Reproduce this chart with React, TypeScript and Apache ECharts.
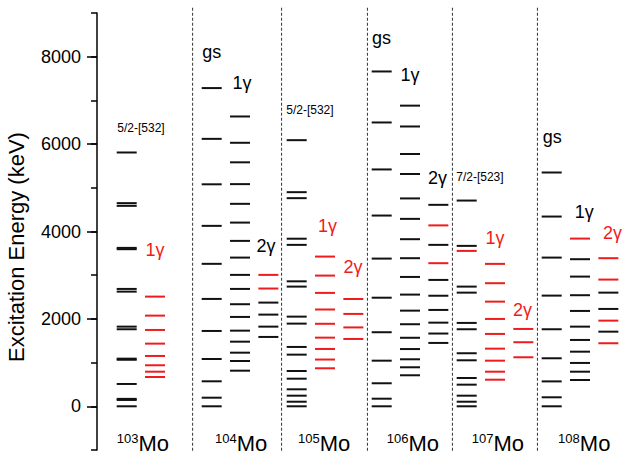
import React, { useEffect, useRef } from 'react';
import * as echarts from 'echarts';

const FONT = '"Liberation Sans", Arial, Helvetica, sans-serif';
const BLACK = '#111111';
const RED = '#ee1c1c';

// ---------- data (keV) ----------
const isotopes = ['103', '104', '105', '106', '107', '108'];
const yTickValues = [0, 2000, 4000, 6000, 8000];

const mo103BandKnown = [0, 145, 170, 511, 1065, 1090, 1763, 1823, 2624, 2686, 3595, 3625, 4587, 4649, 5808];
const mo103Gamma1New = [671, 792, 939, 1152, 1434, 1747, 2075, 2510];

const mo104GsKnown = [0, 197, 572, 1083, 1724, 2457, 3260, 4129, 5080, 6120, 7282];
const mo104Gamma1Known = [815, 1037, 1227, 1479, 1731, 2045, 2336, 2686, 3007, 3403, 3785, 4204, 4633, 5084, 5583, 6030, 6632];
const mo104Gamma2Known = [1587, 1823, 2098, 2373];
const mo104Gamma2New = [2695, 3007];

const mo105BandKnown = [0, 105, 243, 389, 632, 808, 1182, 1358, 1892, 2052, 2739, 2860, 3694, 3835, 4763, 4900, 6090];
const mo105Gamma1New = [870, 1070, 1312, 1571, 1888, 2215, 2595, 2991, 3426];
const mo105Gamma2New = [1541, 1805, 2114, 2455];

const mo106GsKnown = [0, 174, 527, 1044, 1695, 2485, 3380, 4365, 5420, 6495, 7662];
const mo106Gamma1Known = [710, 893, 1076, 1310, 1568, 1878, 2189, 2556, 2960, 3389, 3824, 4289, 4757, 5316, 5774, 6403, 6880];
const mo106Gamma2Known = [1450, 1665, 1914, 2205, 2530, 2892, 3694, 4610];
const mo106Gamma2New = [3275, 4140];

const mo107BandKnown = [0, 105, 243, 495, 648, 1053, 1214, 1763, 1908, 2601, 2739, 3671, 4708];
const mo107BandNew = [3556];
const mo107Gamma1New = [609, 792, 1044, 1319, 1656, 1999, 2395, 2817, 3259];
const mo107Gamma2New = [1122, 1466, 1770];

const mo108GsKnown = [0, 206, 570, 1099, 1763, 2533, 3403, 4342, 5350];
const mo108Gamma1Known = [602, 792, 992, 1250, 1518, 1823, 2182, 2542, 2968, 3366];
const mo108Gamma1New = [3838];
const mo108Gamma2Known = [1708, 2228, 2601];
const mo108Gamma2New = [1443, 1960, 2900, 3389];

// band column slot index, known levels, new levels
const bands: { slot: number; known: number[]; fresh: number[] }[] = [
  { slot: 0, known: mo103BandKnown, fresh: [] },
  { slot: 1, known: [], fresh: mo103Gamma1New },
  { slot: 3, known: mo104GsKnown, fresh: [] },
  { slot: 4, known: mo104Gamma1Known, fresh: [] },
  { slot: 5, known: mo104Gamma2Known, fresh: mo104Gamma2New },
  { slot: 6, known: mo105BandKnown, fresh: [] },
  { slot: 7, known: [], fresh: mo105Gamma1New },
  { slot: 8, known: [], fresh: mo105Gamma2New },
  { slot: 9, known: mo106GsKnown, fresh: [] },
  { slot: 10, known: mo106Gamma1Known, fresh: [] },
  { slot: 11, known: mo106Gamma2Known, fresh: mo106Gamma2New },
  { slot: 12, known: mo107BandKnown, fresh: mo107BandNew },
  { slot: 13, known: [], fresh: mo107Gamma1New },
  { slot: 14, known: [], fresh: mo107Gamma2New },
  { slot: 15, known: mo108GsKnown, fresh: [] },
  { slot: 16, known: mo108Gamma1Known, fresh: mo108Gamma1New },
  { slot: 17, known: mo108Gamma2Known, fresh: mo108Gamma2New },
];

// band labels: text, red?
const bandLabelTexts = ['5/2-[532]', '1γ', 'gs', '1γ', '2γ', '5/2-[532]', '1γ', '2γ', 'gs', '1γ', '2γ', '7/2-[523]', '1γ', '2γ', 'gs', '1γ', '2γ'];
const bandLabelRed = [0, 1, 0, 0, 0, 0, 1, 1, 0, 0, 0, 0, 1, 1, 0, 0, 1];

// ---------- layout ----------
const LINE_W = 0.706; // level line length in slot units
const X_MIN = -0.695;
const X_MAX = 17.87;
const separatorSlots = [2.68, 5.82, 8.85, 11.85, 14.85];
const bandLabelPos: [number, number, number][] = [
  // x (slot), y (keV), fontSize
  [0.858, 6373, 12],
  [1.352, 3587, 18],
  [3.353, 8113, 18],
  [4.42, 7404, 18],
  [5.27, 3670, 18],
  [6.82, 6785, 12],
  [7.44, 4129, 18],
  [8.34, 3197, 18],
  [9.35, 8434, 18],
  [10.35, 7587, 18],
  [11.32, 5228, 18],
  [12.82, 5255, 12],
  [13.35, 3854, 18],
  [14.32, 2205, 18],
  [15.37, 6167, 18],
  [16.5, 4438, 18],
  [17.5, 3969, 18],
];
const isotopeLabelSlots = [0, 3.47, 6.4, 9.53, 12.53, 15.58];
const ISOTOPE_LABEL_Y = -850;

export default function App() {
  const ref = useRef<HTMLDivElement>(null);
  useEffect(() => {
    if (!ref.current) return;
    document.body.style.margin = '0';
    const chart = echarts.init(ref.current, undefined, { renderer: 'svg' });

    const levelData: number[][] = [];
    bands.forEach((b) => {
      b.known.forEach((e) => levelData.push([b.slot, e, 0]));
      b.fresh.forEach((e) => levelData.push([b.slot, e, 1]));
    });

    const option: any = {
      animation: false,
      backgroundColor: '#ffffff',
      grid: [
        { left: 97, right: 0, top: 13, bottom: 9 },
        { left: 97, right: 0, top: 56.7, bottom: 52.7 },
      ],
      xAxis: [
        { type: 'value', gridIndex: 0, min: X_MIN, max: X_MAX, show: false },
        { type: 'value', gridIndex: 1, min: X_MIN, max: X_MAX, show: false },
      ],
      yAxis: [
        {
          type: 'value',
          gridIndex: 0,
          min: -1000,
          max: 9000,
          interval: 1000,
          axisLine: { show: true, onZero: false, lineStyle: { color: '#000', width: 1.5 } },
          axisTick: { show: true, length: 6, lineStyle: { color: '#000', width: 1.5 } },
          axisLabel: { show: false },
          splitLine: { show: false },
        },
        {
          type: 'value',
          gridIndex: 1,
          min: yTickValues[0],
          max: yTickValues[yTickValues.length - 1],
          interval: 2000,
          axisLine: { show: false, onZero: false },
          axisTick: { show: true, length: 10, lineStyle: { color: '#000', width: 1.5 } },
          axisLabel: {
            show: true,
            margin: 16,
            fontSize: 18,
            color: '#000',
            fontFamily: FONT,
            formatter: (v: number) => String(v),
          },
          splitLine: { show: false },
        },
      ],
      graphic: [
        {
          type: 'text',
          x: 16,
          y: 247,
          rotation: Math.PI / 2,
          style: {
            text: 'Excitation Energy (keV)',
            fill: '#000',
            font: `22px ${FONT}`,
            textAlign: 'center',
            textVerticalAlign: 'middle',
          },
        },
      ],
      series: [
        {
          type: 'custom',
          xAxisIndex: 0,
          yAxisIndex: 0,
          clip: false,
          silent: true,
          data: separatorSlots.map((s) => [s, 0]),
          encode: { x: 0, y: 1 },
          renderItem: (_p: any, api: any) => {
            const s = api.value(0);
            const a = api.coord([s, 9120]);
            const b = api.coord([s, -1043]);
            return {
              type: 'line',
              shape: { x1: a[0], y1: a[1], x2: b[0], y2: b[1] },
              style: { stroke: '#333', lineWidth: 1, lineDash: [3, 2] },
            };
          },
        },
        {
          type: 'custom',
          xAxisIndex: 0,
          yAxisIndex: 0,
          clip: false,
          silent: true,
          data: levelData,
          encode: { x: 0, y: 1 },
          renderItem: (_p: any, api: any) => {
            const s = api.value(0);
            const e = api.value(1);
            const isNew = api.value(2);
            const a = api.coord([s, e]);
            const b = api.coord([s + LINE_W, e]);
            return {
              type: 'line',
              shape: { x1: a[0], y1: a[1], x2: b[0], y2: b[1] },
              style: { stroke: isNew ? RED : BLACK, lineWidth: 2 },
            };
          },
        },
        {
          type: 'custom',
          xAxisIndex: 0,
          yAxisIndex: 0,
          clip: false,
          silent: true,
          data: bandLabelPos.map((p) => [p[0], p[1]]),
          encode: { x: 0, y: 1 },
          renderItem: (params: any, api: any) => {
            const i = params.dataIndex;
            const pt = api.coord([api.value(0), api.value(1)]);
            return {
              type: 'text',
              x: pt[0],
              y: pt[1],
              style: {
                text: bandLabelTexts[i],
                fill: bandLabelRed[i] ? RED : '#000',
                font: `${bandLabelPos[i][2]}px ${FONT}`,
                textAlign: 'center',
                textVerticalAlign: 'middle',
              },
            };
          },
        },
        {
          type: 'custom',
          xAxisIndex: 0,
          yAxisIndex: 0,
          clip: false,
          silent: true,
          data: isotopeLabelSlots.map((s) => [s, ISOTOPE_LABEL_Y]),
          encode: { x: 0, y: 1 },
          renderItem: (params: any, api: any) => {
            const i = params.dataIndex;
            const pt = api.coord([api.value(0), api.value(1)]);
            return {
              type: 'text',
              x: pt[0],
              y: pt[1],
              style: {
                text: `{n|${isotopes[i]}}{m|Mo}`,
                textAlign: 'left',
                textVerticalAlign: 'middle',
                rich: {
                  n: { fontSize: 13, fontFamily: FONT, fill: '#000', verticalAlign: 'top' },
                  m: { fontSize: 22, fontFamily: FONT, fill: '#000' },
                },
              },
            };
          },
        },
      ],
    };
    chart.setOption(option);
    return () => chart.dispose();
  }, []);
  return <div ref={ref} style={{ width: 623, height: 459 }} />;
}
